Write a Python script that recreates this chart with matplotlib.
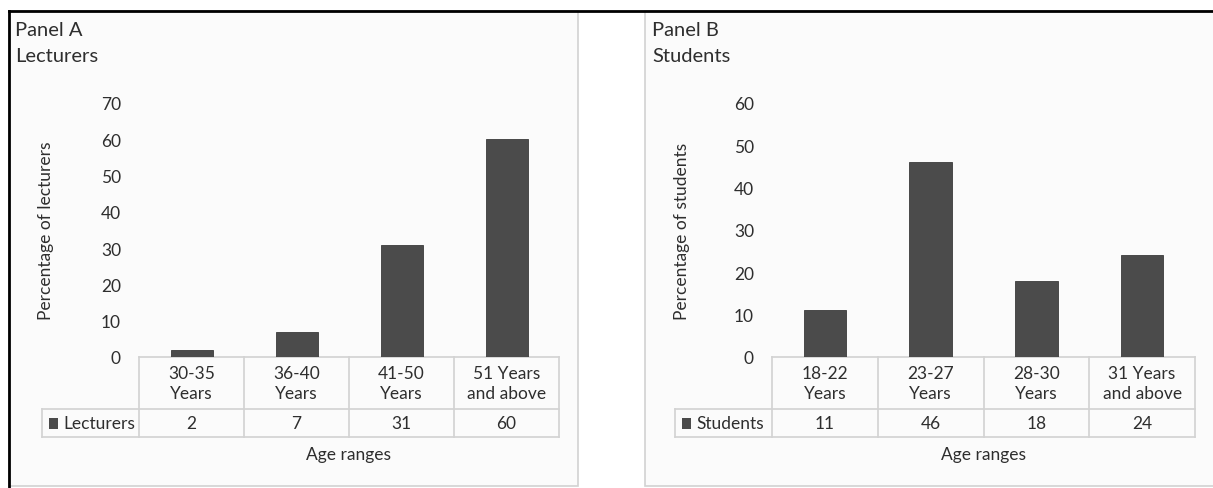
import matplotlib
matplotlib.use("Agg")
import matplotlib.pyplot as plt
import matplotlib.transforms as mtransforms
from matplotlib.patches import Rectangle
from matplotlib.lines import Line2D

# ---- data ----
lecturer_ages = ["30-35\nYears", "36-40\nYears", "41-50\nYears", "51 Years\nand above"]
lecturer_pct = [2, 7, 31, 60]
student_ages = ["18-22\nYears", "23-27\nYears", "28-30\nYears", "31 Years\nand above"]
student_pct = [11, 46, 18, 24]

plt.rcParams["font.family"] = ["Lato", "DejaVu Sans"]

W, H = 1213, 489
fig = plt.figure(figsize=(W / 100, H / 100), dpi=100)
fig.patch.set_facecolor("white")

TXT = "#2e2e2e"
BAR = "#4b4b4b"
GRID = "#d2d2d2"
FS = 12.5


def fx(px):
    return px / W


def fy(py):
    return 1 - py / H


# panel frames
for x0, x1 in [(9, 578), (645, 1220)]:
    fig.patches.append(Rectangle((fx(x0), fy(487)), fx(x1) - fx(x0), fy(12) - fy(487),
                                 transform=fig.transFigure, facecolor="#fbfbfb",
                                 edgecolor=GRID, lw=1.2, zorder=-5))
fig.add_artist(Line2D([fx(9), 1], [fy(12), fy(12)], color="black", lw=2,
                      transform=fig.transFigure, zorder=-4))
fig.add_artist(Line2D([fx(9), fx(9)], [fy(12), 0], color="black", lw=2,
                      transform=fig.transFigure, zorder=-4))


def panel(left, right, title1, title2, title_x, cats, vals, ymax, series, ylabel, ylab_x):
    top, bottom = 104, 358
    ax = fig.add_axes([fx(left), fy(bottom), (right - left) / W, (bottom - top) / H])
    ax.set_zorder(2)
    ax.set_facecolor("none")
    n = len(cats)
    xs = list(range(n))
    ax.bar(xs, vals, width=0.4, color=BAR, edgecolor="#3a3a3a", lw=0.6, zorder=3)
    ax.set_xlim(-0.5, n - 0.5)
    ax.set_ylim(0, ymax)
    ax.set_yticks(range(0, ymax + 1, 10))
    ax.set_xticks([])
    ax.tick_params(axis="y", length=0, pad=13, labelsize=FS, labelcolor=TXT)
    for s in ax.spines.values():
        s.set_visible(False)
    ax.set_ylabel(ylabel, fontsize=FS, color=TXT)
    ax.yaxis.set_label_coords(ylab_x, 0.5)

    # data table under the axis
    hpx = bottom - top
    colw = (right - left) / n
    r1 = -52 / hpx
    r2 = -80 / hpx
    leg_left = -0.5 - 97 / colw
    trans = mtransforms.blended_transform_factory(ax.transData, ax.transAxes)

    def seg(xa, ya):
        ax.add_line(Line2D(xa, ya, transform=trans, color=GRID, lw=1.2, clip_on=False))

    seg([-0.5, n - 0.5], [0, 0])
    seg([leg_left, n - 0.5], [r1, r1])
    seg([leg_left, n - 0.5], [r2, r2])
    seg([leg_left, leg_left], [r1, r2])
    for b in range(n + 1):
        seg([b - 0.5, b - 0.5], [0, r2])
    for i, (c, v) in enumerate(zip(cats, vals)):
        ax.text(i, r1 / 2, c, transform=trans, ha="center", va="center",
                fontsize=FS, color=TXT, linespacing=1.35)
        ax.text(i, (r1 + r2) / 2, str(v), transform=trans, ha="center", va="center",
                fontsize=FS, color=TXT)
    # legend key in the row-label cell
    ax.add_patch(Rectangle((leg_left + 7 / colw, (r1 + r2) / 2 - 5.5 / hpx), 9 / colw, 11 / hpx,
                           transform=trans, facecolor=BAR, edgecolor="none", clip_on=False))
    ax.text(leg_left + 21 / colw, (r1 + r2) / 2, series, transform=trans, ha="left",
            va="center", fontsize=FS, color=TXT)
    ax.text((n - 1) / 2, -(455 - bottom) / hpx, "Age ranges", transform=trans,
            ha="center", va="center", fontsize=FS, color=TXT)

    fig.text(fx(title_x), fy(31), title1, ha="left", va="center", fontsize=14.5, color=TXT)
    fig.text(fx(title_x), fy(57), title2, ha="left", va="center", fontsize=14.5, color=TXT)
    return ax


panel(139, 559, "Panel A", "Lecturers", 15, lecturer_ages, lecturer_pct, 70,
      "Lecturers", "Percentage of lecturers", -85 / 420)
panel(772, 1195, "Panel B", "Students", 652, student_ages, student_pct, 60,
      "Students", "Percentage of students", -82 / 423)

fig.savefig("out.png", dpi=100)
